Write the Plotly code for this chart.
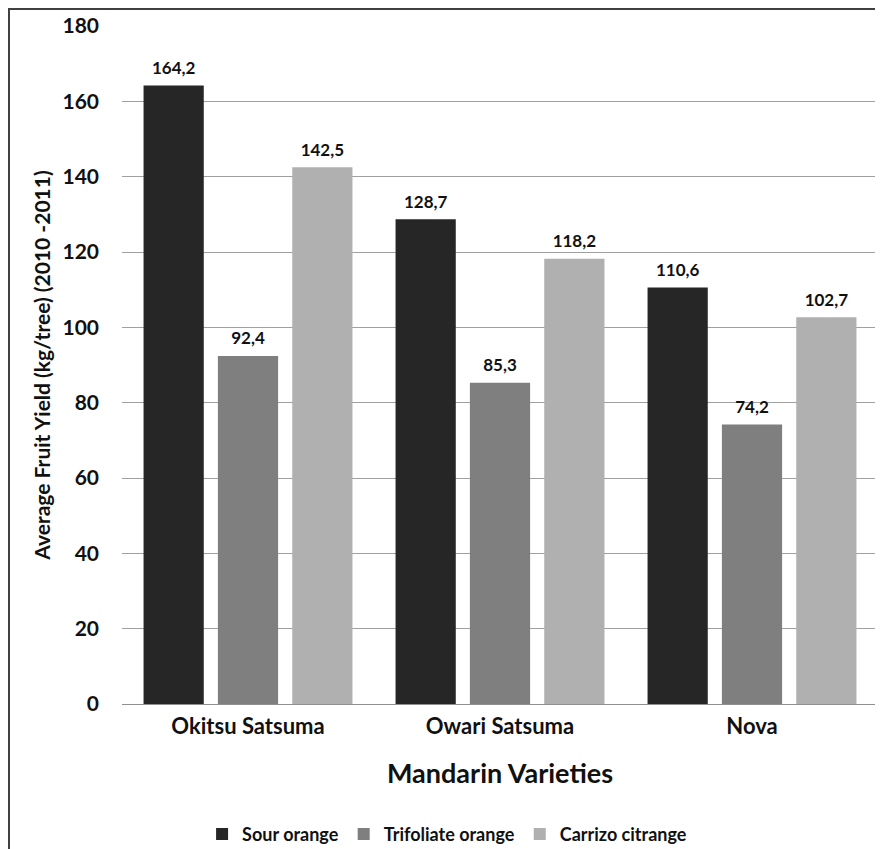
import plotly.graph_objects as go

categories = ["Okitsu Satsuma", "Owari Satsuma", "Nova"]
series_names = ["Sour orange", "Trifoliate orange", "Carrizo citrange"]
sour_orange = [164.2, 128.7, 110.6]
trifoliate_orange = [92.4, 85.3, 74.2]
carrizo_citrange = [142.5, 118.2, 102.7]
y_ticks = [0, 20, 40, 60, 80, 100, 120, 140, 160, 180]

colors = ["#262626", "#7f7f7f", "#b0b0b0"]
FONT = "Lato"
TXT = "#111111"
GAP = 0.115

fig = go.Figure()
for i, (name, vals, col) in enumerate(zip(series_names, [sour_orange, trifoliate_orange, carrizo_citrange], colors)):
    fig.add_trace(go.Bar(
        x=categories, y=vals, name=name, offsetgroup=str(i), alignmentgroup="a",
        marker=dict(color=col, line=dict(width=0)),
    ))
for i, vals in enumerate([sour_orange, trifoliate_orange, carrizo_citrange]):
    fig.add_trace(go.Scatter(
        x=categories, y=vals, mode="text+markers", showlegend=False, hoverinfo="skip",
        offsetgroup=str(i), alignmentgroup="a",
        marker=dict(size=10, opacity=0),
        text=[f"{v:.1f}".replace(".", ",") for v in vals],
        textposition="top center", cliponaxis=False,
        textfont=dict(family=FONT, size=17, color=TXT, weight="bold"),
    ))

fig.update_layout(
    width=875, height=841,
    margin=dict(l=114, r=5, t=18, b=145, autoexpand=False),
    paper_bgcolor="white", plot_bgcolor="white",
    barmode="group", bargap=GAP, bargroupgap=0.19,
    scattermode="group", scattergap=GAP,
    font=dict(family=FONT, color=TXT),
    showlegend=True,
    legend=dict(orientation="h", x=0.43, xanchor="center", y=-0.192, yanchor="middle",
                font=dict(family=FONT, size=18, color=TXT, weight="bold"),
                itemwidth=30, traceorder="normal"),
)
fig.update_yaxes(
    range=[0, 180], tickvals=y_ticks, showgrid=True, gridcolor="#a0a0a0", gridwidth=1,
    zeroline=True, zerolinecolor="#909090", zerolinewidth=1,
    tickfont=dict(family=FONT, size=21, color=TXT, weight="bold"),
    ticklabelstandoff=22, automargin=False,
    title=dict(text="Average Fruit Yield (kg/tree) (2010 -2011)",
               font=dict(family=FONT, size=21, color=TXT, weight="bold"), standoff=6),
)
fig.update_xaxes(
    showline=False, automargin=False,
    tickfont=dict(family=FONT, size=22, color=TXT, weight="bold"),
    ticklabelstandoff=7,
    title=dict(text="Mandarin Varieties",
               font=dict(family=FONT, size=27, color=TXT, weight="bold"), standoff=26),
)
fig.add_shape(type="rect", xref="paper", yref="paper",
              x0=-0.1495, x1=1.005, y0=-0.3, y1=1.025,
              line=dict(color="#404040", width=2), layer="above")

fig.write_html("out.html")
